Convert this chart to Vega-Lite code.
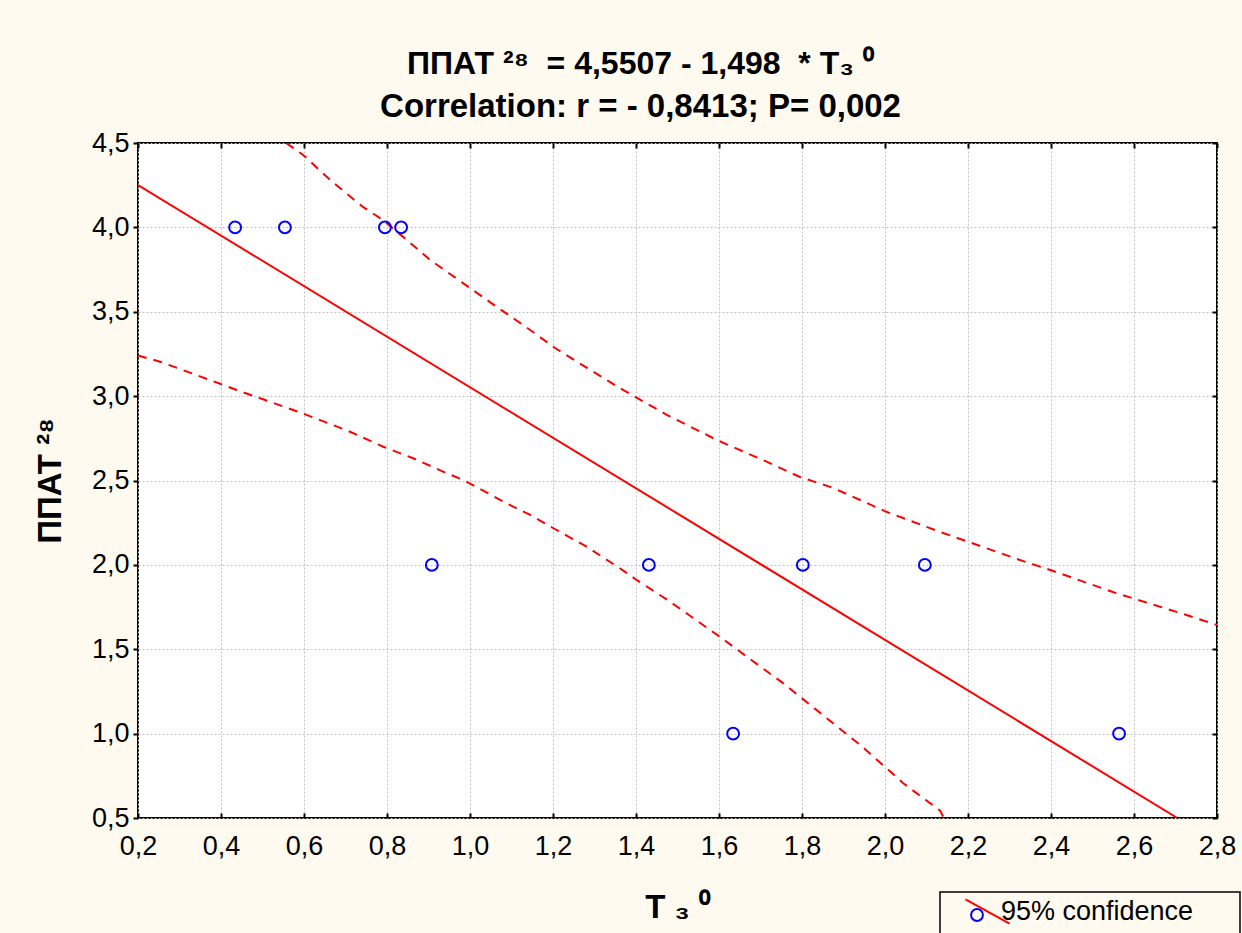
{
  "$schema": "https://vega.github.io/schema/vega-lite/v6.json",
  "autosize": "none",
  "width": 1079,
  "height": 675,
  "padding": {"left": 138, "top": 143, "right": 25, "bottom": 115},
  "background": "#fffaf0",
  "title": {
    "text": "ППАТ ²⁸\u00a0 = 4,5507 - 1,498\u00a0 * T₃\u00a0⁰",
    "subtitle": "Correlation: r = - 0,8413; P= 0,002",
    "font": "Liberation Sans",
    "fontSize": 32,
    "fontWeight": "bold",
    "color": "#000000",
    "subtitleFont": "Liberation Sans",
    "subtitleFontSize": 33,
    "subtitleFontWeight": "bold",
    "subtitleColor": "#000000",
    "subtitlePadding": 10,
    "anchor": "middle",
    "frame": "group",
    "dx": -37,
    "offset": 4
  },
  "datasets": {
    "points": [
      {"x": 0.434, "y": 4}, {"x": 0.554, "y": 4}, {"x": 0.795, "y": 4}, {"x": 0.834, "y": 4},
      {"x": 0.908, "y": 2}, {"x": 1.431, "y": 2}, {"x": 1.634, "y": 1}, {"x": 1.802, "y": 2},
      {"x": 2.096, "y": 2}, {"x": 2.564, "y": 1}
    ],
    "fit": [
      {"x": 0.2, "y": 4.2511}, {"x": 2.7045, "y": 0.5}
    ],
    "bands": [
      {"band": "upper", "x": 0.557, "y": 4.5},
      {"band": "upper", "x": 0.598, "y": 4.429},
      {"band": "upper", "x": 0.663, "y": 4.281},
      {"band": "upper", "x": 0.742, "y": 4.121},
      {"band": "upper", "x": 0.790, "y": 4.044},
      {"band": "upper", "x": 0.848, "y": 3.925},
      {"band": "upper", "x": 0.904, "y": 3.807},
      {"band": "upper", "x": 0.983, "y": 3.670},
      {"band": "upper", "x": 1.065, "y": 3.528},
      {"band": "upper", "x": 1.145, "y": 3.392},
      {"band": "upper", "x": 1.205, "y": 3.285},
      {"band": "upper", "x": 1.282, "y": 3.167},
      {"band": "upper", "x": 1.361, "y": 3.048},
      {"band": "upper", "x": 1.475, "y": 2.888},
      {"band": "upper", "x": 1.595, "y": 2.740},
      {"band": "upper", "x": 1.716, "y": 2.610},
      {"band": "upper", "x": 1.795, "y": 2.521},
      {"band": "upper", "x": 1.875, "y": 2.456},
      {"band": "upper", "x": 2.005, "y": 2.313},
      {"band": "upper", "x": 2.133, "y": 2.195},
      {"band": "upper", "x": 2.325, "y": 2.029},
      {"band": "upper", "x": 2.405, "y": 1.964},
      {"band": "upper", "x": 2.549, "y": 1.839},
      {"band": "upper", "x": 2.711, "y": 1.715},
      {"band": "upper", "x": 2.8, "y": 1.644},
      {"band": "lower", "x": 0.2, "y": 3.241},
      {"band": "lower", "x": 0.253, "y": 3.204},
      {"band": "lower", "x": 0.341, "y": 3.125},
      {"band": "lower", "x": 0.438, "y": 3.036},
      {"band": "lower", "x": 0.518, "y": 2.967},
      {"band": "lower", "x": 0.598, "y": 2.897},
      {"band": "lower", "x": 0.711, "y": 2.789},
      {"band": "lower", "x": 0.791, "y": 2.700},
      {"band": "lower", "x": 0.863, "y": 2.632},
      {"band": "lower", "x": 0.944, "y": 2.543},
      {"band": "lower", "x": 0.984, "y": 2.503},
      {"band": "lower", "x": 1.088, "y": 2.365},
      {"band": "lower", "x": 1.145, "y": 2.296},
      {"band": "lower", "x": 1.201, "y": 2.217},
      {"band": "lower", "x": 1.281, "y": 2.108},
      {"band": "lower", "x": 1.361, "y": 1.980},
      {"band": "lower", "x": 1.402, "y": 1.910},
      {"band": "lower", "x": 1.482, "y": 1.782},
      {"band": "lower", "x": 1.554, "y": 1.657},
      {"band": "lower", "x": 1.602, "y": 1.574},
      {"band": "lower", "x": 1.667, "y": 1.456},
      {"band": "lower", "x": 1.755, "y": 1.298},
      {"band": "lower", "x": 1.795, "y": 1.219},
      {"band": "lower", "x": 1.875, "y": 1.061},
      {"band": "lower", "x": 1.940, "y": 0.933},
      {"band": "lower", "x": 2.004, "y": 0.794},
      {"band": "lower", "x": 2.044, "y": 0.706},
      {"band": "lower", "x": 2.133, "y": 0.543},
      {"band": "lower", "x": 2.142, "y": 0.5}
    ]
  },
  "layer": [
    {
      "data": {"name": "bands"},
      "mark": {"type": "line", "color": "#ff0000", "strokeWidth": 2, "strokeDash": [9, 7], "clip": true},
      "encoding": {
        "x": {"field": "x", "type": "quantitative", "axis": null},
        "y": {"field": "y", "type": "quantitative", "axis": null},
        "detail": {"field": "band"},
        "order": {"field": "x", "type": "quantitative"}
      }
    },
    {
      "data": {"name": "fit"},
      "mark": {"type": "line", "strokeWidth": 2, "clip": true},
      "encoding": {
        "x": {
          "field": "x", "type": "quantitative",
          "axis": {"orient": "top", "labels": false, "title": null, "grid": false, "tickSize": -5, "values": [0.2,0.4,0.6,0.8,1.0,1.2,1.4,1.6,1.8,2.0,2.2,2.4,2.6,2.8]}
        },
        "y": {
          "field": "y", "type": "quantitative",
          "axis": {"orient": "right", "labels": false, "title": null, "grid": false, "tickSize": -5, "values": [0.5,1.0,1.5,2.0,2.5,3.0,3.5,4.0,4.5]}
        },
        "color": {
          "datum": "95% confidence",
          "scale": {"range": ["#ff0000"]},
          "legend": {
            "orient": "none", "legendX": 802, "legendY": 749,
            "title": null,
            "symbolType": "M-2,-1.1L2,1.1",
            "symbolSize": 484,
            "symbolStrokeWidth": 2,
            "symbolOffset": 28,
            "padding": 6,
            "labelFont": "Liberation Sans",
            "labelFontSize": 27,
            "labelColor": "#000000",
            "labelOffset": 0,
            "labelLimit": 600,
            "labelExpr": "datum.label + '\u2800\u2800'",
            "strokeColor": "#000000",
            "encode": {"legend": {"update": {"strokeWidth": {"value": 1.5}}}}
          }
        }
      }
    },
    {
      "data": {"name": "points"},
      "mark": {"type": "point", "shape": "circle", "filled": false, "strokeWidth": 2, "size": 140, "opacity": 1},
      "encoding": {
        "x": {
          "field": "x", "type": "quantitative",
          "scale": {"domain": [0.2, 2.8], "nice": false, "zero": false},
          "axis": {
            "orient": "bottom", "title": "T ₃ ⁰", "grid": true, "tickSize": -5,
            "values": [0.2,0.4,0.6,0.8,1.0,1.2,1.4,1.6,1.8,2.0,2.2,2.4,2.6,2.8],
            "labelExpr": "replace(format(datum.value, '.1f'), '.', ',')",
            "labelPadding": 20,
            "titlePadding": 32
          }
        },
        "y": {
          "field": "y", "type": "quantitative",
          "scale": {"domain": [0.5, 4.5], "nice": false, "zero": false},
          "axis": {
            "orient": "left", "title": "ППАТ ²⁸", "grid": true, "tickSize": 5,
            "values": [0.5,1.0,1.5,2.0,2.5,3.0,3.5,4.0,4.5],
            "labelExpr": "replace(format(datum.value, '.1f'), '.', ',')",
            "labelPadding": 4,
            "titlePadding": 24
          }
        },
        "stroke": {
          "datum": "points",
          "scale": {"range": ["#0000ff"]},
          "legend": {
            "orient": "none", "legendX": 832, "legendY": 765,
            "title": null,
            "symbolType": "circle",
            "symbolSize": 140,
            "symbolStrokeWidth": 2,
            "symbolFillColor": "transparent",
            "padding": 0,
            "labelExpr": "''",
            "labelFontSize": 10
          }
        }
      }
    }
  ],
  "resolve": {"axis": {"x": "independent", "y": "independent"}},
  "config": {
    "font": "Liberation Sans",
    "view": {"fill": "#ffffff", "stroke": "#000000", "strokeWidth": 2},
    "axis": {
      "domain": false,
      "tickColor": "#000000",
      "tickWidth": 2,
      "labelFont": "Liberation Sans",
      "labelFontSize": 27,
      "labelColor": "#000000",
      "titleFont": "Liberation Sans",
      "titleFontSize": 33,
      "titleFontWeight": "bold",
      "titleColor": "#000000",
      "gridColor": "#c0c0c0",
      "gridDash": [2, 2],
      "gridWidth": 1,
      "labelFlush": false,
      "labelOverlap": false
    }
  }
}
